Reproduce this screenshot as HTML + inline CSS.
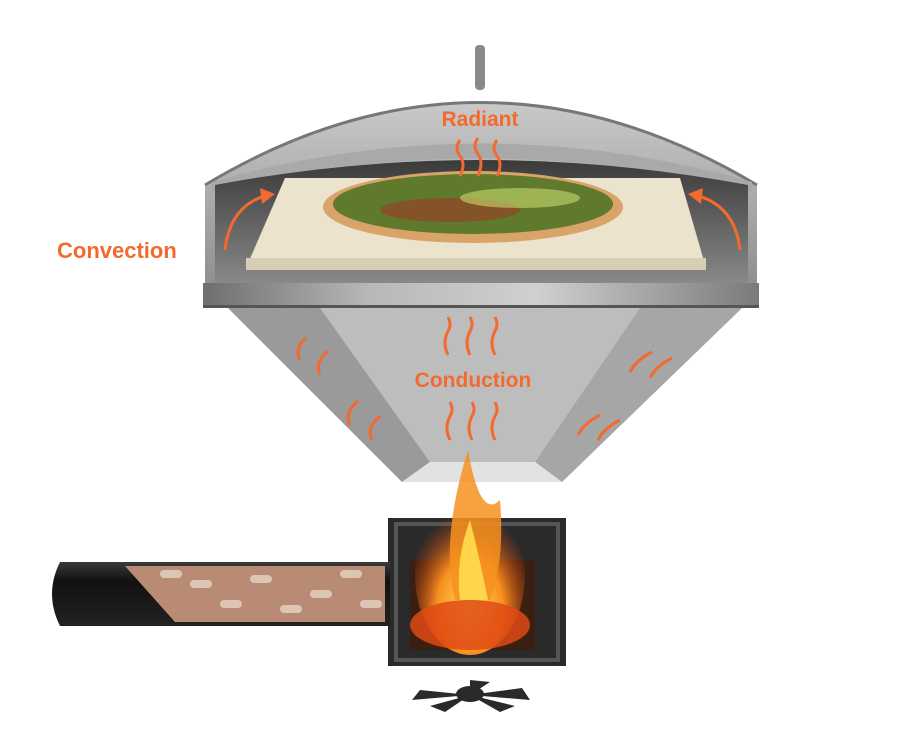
<!DOCTYPE html>
<html><head><meta charset="utf-8"><style>
html,body{margin:0;padding:0;background:#fff;width:900px;height:746px;overflow:hidden}
svg{display:block}
text{font-family:"Liberation Sans",sans-serif;font-weight:bold;fill:#f26a2e}
</style></head><body>
<svg width="900" height="746" viewBox="0 0 900 746" xmlns="http://www.w3.org/2000/svg">
<defs>
<linearGradient id="steel" x1="0" y1="0" x2="1" y2="0">
<stop offset="0" stop-color="#6e6e6e"/><stop offset="0.3" stop-color="#b8b8b8"/><stop offset="0.6" stop-color="#d0d0d0"/><stop offset="1" stop-color="#7a7a7a"/></linearGradient>
<linearGradient id="dome" x1="0" y1="0" x2="0" y2="1">
<stop offset="0" stop-color="#c9c9c9"/><stop offset="1" stop-color="#8d8d8d"/></linearGradient>
<linearGradient id="inner" x1="0" y1="0" x2="0" y2="1">
<stop offset="0" stop-color="#3a3a3a"/><stop offset="1" stop-color="#8a8a8a"/></linearGradient>
<linearGradient id="funnel" x1="0" y1="0" x2="0" y2="1">
<stop offset="0" stop-color="#a8a8a8"/><stop offset="1" stop-color="#d8d8d8"/></linearGradient>
<radialGradient id="fire" cx="0.5" cy="0.7" r="0.6">
<stop offset="0" stop-color="#ffe060"/><stop offset="0.5" stop-color="#f7901e"/><stop offset="1" stop-color="#d13a10" stop-opacity="0"/></radialGradient>
<linearGradient id="tube" x1="0" y1="0" x2="0" y2="1">
<stop offset="0" stop-color="#3a3a3a"/><stop offset="0.3" stop-color="#111"/><stop offset="1" stop-color="#222"/></linearGradient>
</defs>
<rect x="475" y="45" width="10" height="45" rx="4" fill="#8a8a8a"/>
<path d="M205,185 Q480,20 757,185 L757,290 L205,290 Z" fill="url(#dome)"/>
<path d="M205,185 Q480,20 757,185" fill="none" stroke="#777" stroke-width="3"/>
<path d="M212,182 Q480,105 752,182 L752,192 Q480,125 212,192 Z" fill="#a9a9a9"/>
<path d="M215,185 Q480,135 748,185 L748,285 L215,285 Z" fill="url(#inner)"/>
<path d="M285,178 L680,178 L706,268 L246,268 Z" fill="#ece3cd"/>
<path d="M246,258 L706,258 L706,270 L246,270 Z" fill="#d8ceb6"/>
<ellipse cx="473" cy="207" rx="150" ry="36" fill="#d9a46a"/>
<ellipse cx="473" cy="204" rx="140" ry="30" fill="#5f7a2c"/>
<ellipse cx="450" cy="210" rx="70" ry="12" fill="#9c3a26" opacity="0.6"/>
<ellipse cx="520" cy="198" rx="60" ry="10" fill="#c8d870" opacity="0.6"/>
<rect x="203" y="283" width="556" height="24" fill="url(#steel)"/>
<rect x="203" y="305" width="556" height="3" fill="#555"/>
<path d="M228,308 L742,308 L562,482 L402,482 Z" fill="url(#funnel)"/>
<path d="M228,308 L320,308 L430,462 L402,482 Z" fill="#9a9a9a"/>
<path d="M742,308 L640,308 L535,462 L562,482 Z" fill="#a6a6a6"/>
<path d="M320,308 L640,308 L535,462 L430,462 Z" fill="#bdbdbd"/>
<path d="M430,462 L535,462 L562,482 L402,482 Z" fill="#e2e2e2"/>
<!-- firepot -->
<rect x="388" y="518" width="178" height="148" fill="#2a2a2a"/>
<rect x="396" y="524" width="162" height="136" fill="none" stroke="#555" stroke-width="4"/>
<rect x="410" y="560" width="125" height="90" fill="#3a2010"/>
<ellipse cx="470" cy="575" rx="55" ry="80" fill="url(#fire)"/>
<path d="M455,600 Q440,540 468,450 Q480,520 500,500 Q505,560 490,600 Z" fill="#f7901e" opacity="0.85"/>
<path d="M460,600 Q455,560 470,520 Q480,560 488,600 Z" fill="#ffd54a"/>
<ellipse cx="470" cy="625" rx="60" ry="25" fill="#e04a14" opacity="0.85"/>
<!-- auger -->
<path d="M60,562 L390,562 L390,626 L60,626 Q44,594 60,562 Z" fill="url(#tube)"/>
<path d="M125,566 L385,566 L385,622 L175,622 Z" fill="#b98a74"/>
<g fill="#ead9cc" opacity="0.75">
<rect x="190" y="580" width="22" height="8" rx="4"/><rect x="250" y="575" width="22" height="8" rx="4"/>
<rect x="310" y="590" width="22" height="8" rx="4"/><rect x="220" y="600" width="22" height="8" rx="4"/>
<rect x="340" y="570" width="22" height="8" rx="4"/><rect x="280" y="605" width="22" height="8" rx="4"/>
<rect x="160" y="570" width="22" height="8" rx="4"/><rect x="360" y="600" width="22" height="8" rx="4"/>
</g>
<!-- fan -->
<g fill="#2a2a2a">
<path d="M470,695 L412,700 L420,690 Z"/><path d="M470,695 L530,700 L522,688 Z"/>
<path d="M470,695 L445,712 L430,706 Z"/><path d="M470,695 L500,712 L515,706 Z"/>
<path d="M470,695 L490,682 L470,680 Z"/>
<ellipse cx="470" cy="694" rx="14" ry="8"/>
</g>
<g fill="none" stroke="#f26a2e" stroke-width="3">
<path d="M460,140 q-6,8 0,16 q6,8 0,20"/><path d="M478,138 q-6,8 0,16 q6,8 0,22"/><path d="M497,140 q-6,8 0,16 q6,8 0,20"/>
<path d="M225,250 Q230,205 268,195"/><path d="M740,250 Q735,205 695,195"/>
<path d="M448,355 q-6,-12 0,-24 q4,-6 0,-14"/><path d="M470,355 q-6,-12 0,-24 q4,-6 0,-14"/><path d="M495,355 q-6,-12 0,-24 q4,-6 0,-14"/>
<path d="M450,440 q-6,-12 0,-24 q4,-6 0,-14"/><path d="M472,440 q-6,-12 0,-24 q4,-6 0,-14"/><path d="M495,440 q-6,-12 0,-24 q4,-6 0,-14"/>
<path d="M300,360 q-6,-12 6,-22"/><path d="M320,375 q-6,-12 8,-24"/>
<path d="M350,425 q-6,-12 8,-24"/><path d="M372,440 q-6,-12 8,-24"/>
<path d="M630,372 q6,-12 22,-20"/><path d="M650,378 q6,-12 22,-20"/>
<path d="M578,435 q6,-12 22,-20"/><path d="M598,440 q6,-12 22,-20"/>
</g>
<g fill="#f26a2e">
<path d="M260,188 L275,194 L262,204 Z"/><path d="M703,188 L688,194 L701,204 Z"/>
</g>
<text x="480" y="126" font-size="21" text-anchor="middle">Radiant</text>
<text x="57" y="258" font-size="22">Convection</text>
<text x="473" y="387" font-size="21" text-anchor="middle">Conduction</text>
</svg>
</body></html>
